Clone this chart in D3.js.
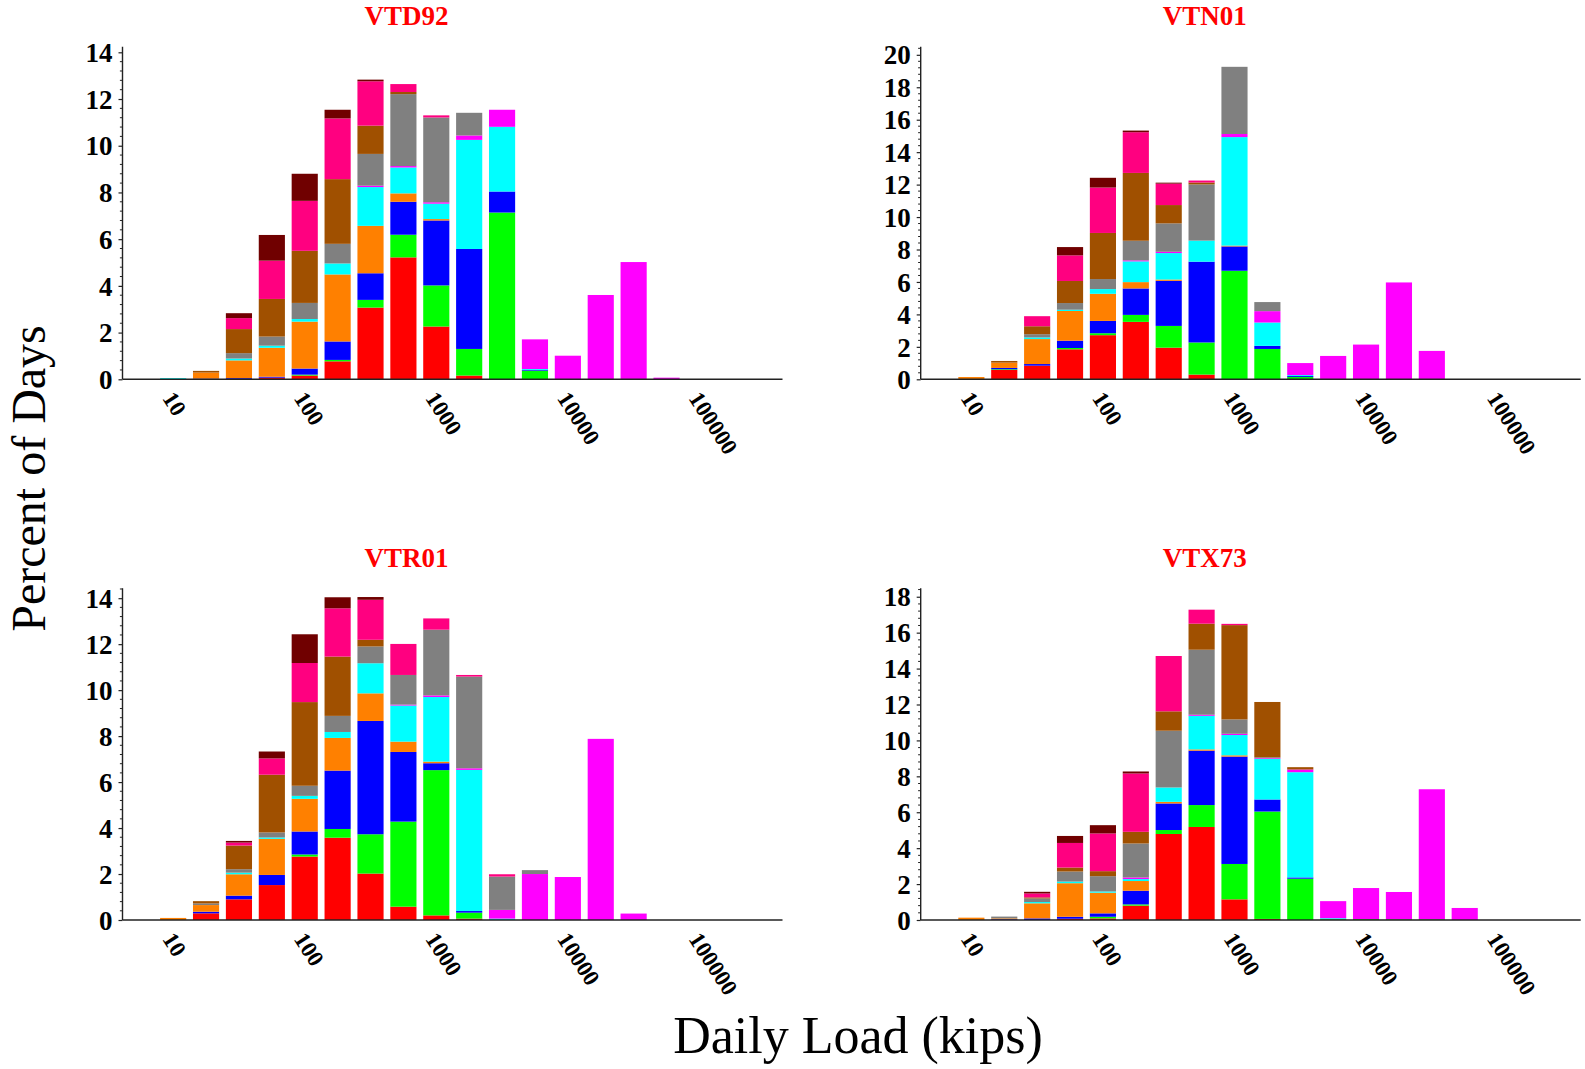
<!DOCTYPE html>
<html>
<head>
<meta charset="utf-8">
<script src="https://cdn.jsdelivr.net/npm/d3@7"></script>
<style>
  html, body { margin: 0; padding: 0; background: #fff; }
  svg { display: block; }
</style>
</head>
<body>
<svg id="chart" width="1585" height="1069"></svg>
<script>
// ---------------- DATA ----------------
// lower edges of the log bins (4 bins per decade), kips
const binEdges = [10, 17.78, 31.62, 56.23, 100, 177.8, 316.2, 562.3, 1000, 1778, 3162, 5623, 10000, 17783, 31623, 56234, 100000];
const xTickValues = [10, 100, 1000, 10000, 100000];
const xTickLabels = ["10", "100", "1000", "10000", "100000"];
// stacked groups, bottom to top
const groups = ["G1", "G2", "G3", "G4", "G5", "G6", "G7", "G8", "G9", "G10"];
const stationNames = ["VTD92", "VTN01", "VTR01", "VTX73"];

// percent of days per bin, one row per group (bottom to top)
const VTD92 = [
  [0, 0, 0, 0.07, 0.16, 0.77, 3.07, 5.22, 2.26, 0.16, 0, 0, 0, 0, 0, 0],
  [0, 0, 0, 0, 0.04, 0.06, 0.33, 0.97, 1.76, 1.14, 7.14, 0.37, 0, 0, 0, 0],
  [0, 0.03, 0.05, 0.04, 0.26, 0.79, 1.14, 1.41, 2.78, 4.28, 0.90, 0.03, 0, 0, 0, 0],
  [0, 0.26, 0.76, 1.24, 2.01, 2.87, 2.03, 0.36, 0.06, 0, 0, 0, 0, 0, 0, 0],
  [0.05, 0, 0.08, 0.09, 0.11, 0.47, 1.66, 1.11, 0.66, 4.67, 2.77, 0.04, 0, 0, 0, 0],
  [0, 0, 0, 0, 0, 0, 0.06, 0.06, 0.06, 0.19, 0.73, 1.27, 1.01, 3.61, 5.02, 0.07],
  [0, 0, 0.23, 0.39, 0.69, 0.84, 1.36, 3.08, 3.63, 0.97, 0, 0, 0, 0, 0, 0],
  [0, 0.07, 1.03, 1.61, 2.23, 2.77, 1.21, 0.09, 0, 0, 0, 0, 0, 0, 0, 0],
  [0, 0, 0.47, 1.64, 2.14, 2.60, 1.90, 0.34, 0.09, 0, 0, 0, 0, 0, 0, 0],
  [0, 0, 0.21, 1.10, 1.16, 0.37, 0.07, 0, 0, 0, 0, 0, 0, 0, 0, 0]
];
const VTN01 = [
  [0, 0.58, 0.84, 1.85, 2.72, 3.54, 1.95, 0.29, 0, 0, 0, 0, 0, 0, 0, 0],
  [0, 0.04, 0, 0.08, 0.12, 0.43, 1.34, 1.98, 6.69, 1.87, 0.14, 0, 0, 0, 0, 0],
  [0, 0.08, 0.10, 0.45, 0.76, 1.63, 2.78, 4.98, 1.50, 0.19, 0.06, 0, 0, 0, 0, 0],
  [0.14, 0.33, 1.54, 1.83, 1.67, 0.39, 0.08, 0, 0.05, 0, 0, 0, 0, 0, 0, 0],
  [0, 0, 0.10, 0.08, 0.29, 1.28, 1.63, 1.30, 6.69, 1.44, 0.06, 0, 0, 0, 0, 0],
  [0, 0, 0, 0, 0, 0.06, 0.08, 0, 0.19, 0.70, 0.74, 1.44, 2.14, 5.97, 1.75, 0],
  [0, 0, 0.20, 0.41, 0.62, 1.21, 1.75, 3.46, 4.14, 0.56, 0, 0, 0, 0, 0, 0],
  [0, 0.10, 0.49, 1.36, 2.84, 4.18, 1.13, 0.12, 0, 0, 0, 0, 0, 0, 0, 0],
  [0, 0, 0.62, 1.58, 2.80, 2.51, 1.32, 0.12, 0, 0, 0, 0, 0, 0, 0, 0],
  [0, 0, 0, 0.51, 0.60, 0.10, 0.06, 0, 0, 0, 0, 0, 0, 0, 0, 0]
];
const VTR01 = [
  [0, 0.29, 0.90, 1.52, 2.76, 3.58, 2.02, 0.58, 0.20, 0.06, 0, 0, 0, 0, 0, 0],
  [0, 0, 0, 0, 0.09, 0.38, 1.71, 3.70, 6.32, 0.26, 0, 0, 0, 0, 0, 0],
  [0, 0.07, 0.16, 0.44, 1.00, 2.54, 4.93, 3.03, 0.30, 0.07, 0, 0, 0, 0, 0, 0],
  [0.09, 0.29, 0.93, 1.57, 1.42, 1.42, 1.20, 0.45, 0.07, 0, 0, 0, 0, 0, 0, 0],
  [0, 0, 0.07, 0.06, 0.13, 0.26, 1.31, 1.57, 2.81, 6.14, 0.06, 0, 0, 0, 0, 0],
  [0, 0, 0, 0, 0, 0, 0, 0.04, 0.07, 0.07, 0.38, 2.00, 1.87, 7.88, 0.28, 0],
  [0, 0.07, 0.15, 0.22, 0.44, 0.70, 0.73, 1.29, 2.86, 3.99, 1.45, 0.17, 0, 0, 0, 0],
  [0, 0.10, 1.03, 2.51, 3.64, 2.58, 0.29, 0, 0, 0, 0, 0, 0, 0, 0, 0],
  [0, 0, 0.13, 0.71, 1.70, 2.10, 1.74, 1.35, 0.49, 0.07, 0.10, 0, 0, 0, 0, 0],
  [0, 0, 0.07, 0.30, 1.25, 0.48, 0.12, 0, 0, 0, 0, 0, 0, 0, 0, 0]
];
const VTX73 = [
  [0, 0, 0, 0.07, 0.09, 0.80, 4.79, 5.18, 1.15, 0.06, 0, 0, 0, 0, 0, 0],
  [0, 0, 0, 0, 0.09, 0.07, 0.22, 1.22, 1.97, 5.98, 2.30, 0.05, 0.05, 0.04, 0.04, 0],
  [0, 0.04, 0.09, 0.11, 0.19, 0.76, 1.48, 3.03, 5.98, 0.67, 0.07, 0, 0, 0, 0, 0],
  [0.13, 0.05, 0.84, 1.87, 1.15, 0.54, 0.09, 0.07, 0.07, 0, 0, 0, 0, 0, 0, 0],
  [0, 0, 0.07, 0.09, 0.07, 0.11, 0.80, 1.87, 1.13, 2.26, 5.86, 0.05, 0, 0, 0, 0],
  [0, 0, 0, 0, 0, 0.09, 0, 0.06, 0.07, 0.04, 0.15, 0.95, 1.73, 1.52, 7.24, 0.67],
  [0, 0.10, 0.20, 0.56, 0.85, 1.89, 3.16, 3.62, 0.80, 0.05, 0, 0, 0, 0, 0, 0],
  [0, 0, 0.06, 0.22, 0.28, 0.65, 1.08, 1.45, 5.25, 3.08, 0.13, 0, 0, 0, 0, 0],
  [0, 0, 0.22, 1.37, 2.10, 3.25, 3.08, 0.78, 0.07, 0, 0, 0, 0, 0, 0, 0],
  [0, 0, 0.09, 0.39, 0.46, 0.11, 0, 0, 0, 0, 0, 0, 0, 0, 0, 0]
];
const yMaxTicks = [14, 20, 14, 18];

// ---------------- STYLE / LAYOUT ----------------
const colors = ["#FF0000", "#00FF00", "#0000FF", "#FF8000", "#00FFFF", "#FF00FF", "#808080", "#A05000", "#FF0080", "#700000"];
const panels = [
  { data: VTD92, left: 122.5, top: 46.7, width: 660, height: 332.6, yTop: 14.24 },
  { data: VTN01, left: 920.7, top: 46.7, width: 660, height: 332.6, yTop: 20.5 },
  { data: VTR01, left: 122.5, top: 588.3, width: 660, height: 331.7, yTop: 14.43 },
  { data: VTX73, left: 920.7, top: 588.3, width: 660, height: 331.7, yTop: 18.47 }
];
const xDomain = [5.215, 542000];
const serif = "'Liberation Serif', 'Times New Roman', serif";

const svg = d3.select("#chart");
svg.append("rect").attr("width", 1585).attr("height", 1069).attr("fill", "#fff");

panels.forEach((p, pi) => {
  const g = svg.append("g").attr("transform", `translate(${p.left},${p.top})`);
  const x = d3.scaleLog().domain(xDomain).range([0, p.width]);
  const y = d3.scaleLinear().domain([0, p.yTop]).range([p.height, 0]);

  // build rows for d3.stack
  const nBins = binEdges.length - 1;
  const rows = d3.range(nBins).map(i => {
    const r = { lo: binEdges[i], hi: binEdges[i + 1] };
    groups.forEach((k, gi) => { r[k] = (p.data[gi] && p.data[gi][i]) || 0; });
    return r;
  });
  const stacked = d3.stack().keys(groups)(rows);

  stacked.forEach((layer, li) => {
    g.append("g").attr("fill", colors[li])
      .selectAll("rect")
      .data(layer.filter(d => d[1] - d[0] > 0))
      .join("rect")
      .attr("x", d => x(d.data.lo) + 0.4)
      .attr("width", d => (x(d.data.hi) - x(d.data.lo)) * 0.795)
      .attr("y", d => y(d[1]))
      .attr("height", d => Math.max(0.6, y(d[0]) - y(d[1])));
  });

  // y axis: major ticks
  const yAxis = d3.axisLeft(y)
    .tickValues(d3.range(0, yMaxTicks[pi] + 0.001, 2))
    .tickFormat(d3.format("d"))
    .tickSize(4).tickPadding(6);
  const ya = g.append("g").call(yAxis);
  ya.attr("font-family", serif).attr("font-size", 27);
  ya.select(".domain").attr("stroke", "#222").attr("stroke-width", 1.4)
    .attr("d", `M0,${p.height}V0`);
  ya.selectAll(".tick line").attr("stroke", "#222").attr("stroke-width", 1.2);
  ya.selectAll("text")
    .style("font-family", serif).style("font-weight", "bold")
    .style("font-size", "27px").attr("fill", "#000").attr("dy", "0.34em");

  // y minor ticks
  const minors = d3.range(0, p.yTop, 0.4).filter(v => Math.abs(v / 2 - Math.round(v / 2)) > 0.01);
  g.append("g").selectAll("line").data(minors).join("line")
    .attr("x1", -2.6).attr("x2", 0)
    .attr("y1", d => y(d)).attr("y2", d => y(d))
    .attr("stroke", "#222").attr("stroke-width", 1);

  // x axis line
  g.append("line").attr("x1", 0).attr("x2", p.width)
    .attr("y1", p.height).attr("y2", p.height)
    .attr("stroke", "#222").attr("stroke-width", 1.6);

  // x tick labels, rotated
  g.append("g").selectAll("text").data(xTickValues).join("text")
    .attr("transform", (d) => `translate(${x(d) + 2},${p.height + 19}) rotate(57)`)
    .style("font-family", serif).style("font-weight", "bold")
    .style("font-size", "23px").attr("fill", "#000")
    .text((d, i) => xTickLabels[i]);

  // title
  svg.append("text")
    .attr("x", p.left + p.width / 2 - 46)
    .attr("y", p.top - 21.5)
    .attr("text-anchor", "middle")
    .style("font-family", serif).style("font-weight", "bold")
    .style("font-size", "27px").attr("fill", "#FF0000")
    .text(stationNames[pi]);
});

// overall axis titles
svg.append("text")
  .attr("transform", "translate(45,478.5) rotate(-90)")
  .attr("text-anchor", "middle")
  .style("font-family", serif).style("font-size", "48px").attr("fill", "#000")
  .text("Percent of Days");

svg.append("text")
  .attr("x", 858).attr("y", 1053)
  .attr("text-anchor", "middle")
  .style("font-family", serif).style("font-size", "52px").attr("fill", "#000")
  .text("Daily Load (kips)");
</script>
</body>
</html>
